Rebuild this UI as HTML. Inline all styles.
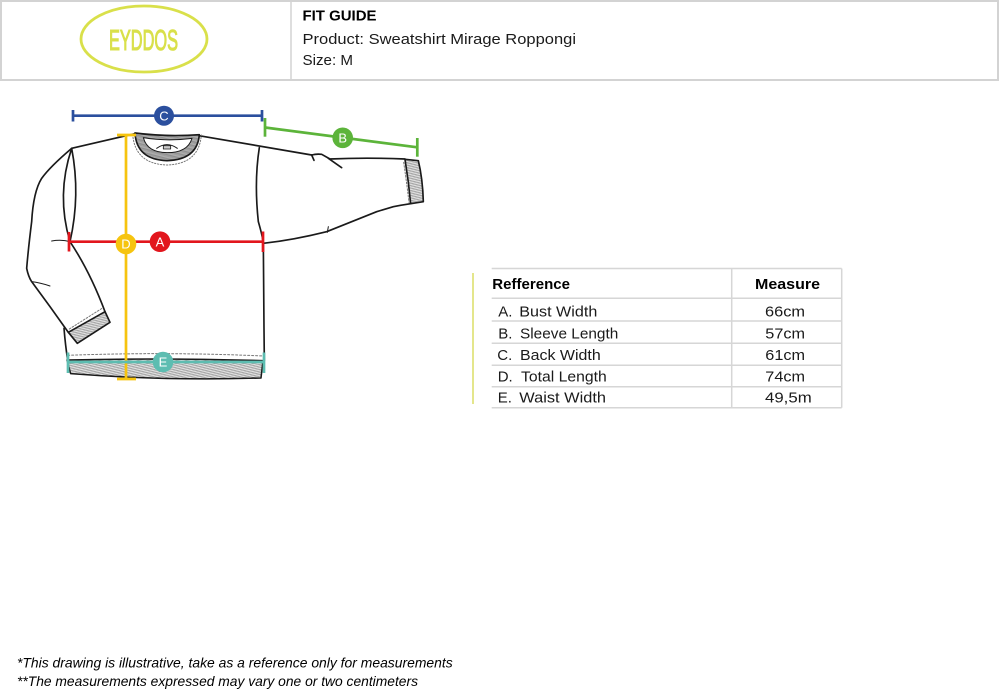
<!DOCTYPE html>
<html><head><meta charset="utf-8"><style>
html,body{margin:0;padding:0;background:#fff;}
svg{display:block;}
text{font-family:"Liberation Sans",sans-serif;}
</style></head><body>
<svg width="1000" height="693" viewBox="0 0 1000 693" xmlns="http://www.w3.org/2000/svg">
<defs>
<pattern id="h" patternUnits="userSpaceOnUse" width="5" height="5" patternTransform="rotate(80)">
<rect width="5" height="5" fill="#e8e8e8"/><line x1="1" y1="0" x2="1" y2="5" stroke="#8c8c8c" stroke-width="2"/></pattern>
<pattern id="h2" patternUnits="userSpaceOnUse" width="4" height="4" patternTransform="rotate(85)">
<rect width="4" height="4" fill="#c4c4c4"/><line x1="1" y1="0" x2="1" y2="4" stroke="#7a7a7a" stroke-width="2"/></pattern>
</defs>
<rect width="1000" height="693" fill="#fff"/>

<!-- header -->
<rect x="1" y="1" width="997" height="79" fill="none" stroke="#d3d3d3" stroke-width="2"/>
<line x1="291" y1="1" x2="291" y2="80" stroke="#d3d3d3" stroke-width="1.5"/>
<ellipse cx="144" cy="39" rx="63" ry="33" fill="none" stroke="#d9e04a" stroke-width="2.8"/>
<text x="109" y="50" font-size="29" fill="#d9e04a" stroke="#d9e04a" stroke-width="1.1" textLength="69" lengthAdjust="spacingAndGlyphs">EYDDOS</text>
<text x="302.5" y="20.7" font-size="15" font-weight="bold" fill="#000" textLength="74" lengthAdjust="spacingAndGlyphs">FIT GUIDE</text>
<text x="302.5" y="44" font-size="15" fill="#1a1a1a" textLength="273.5" lengthAdjust="spacingAndGlyphs">Product: Sweatshirt Mirage Roppongi</text>
<text x="302.5" y="65" font-size="15" fill="#1a1a1a" textLength="50.5" lengthAdjust="spacingAndGlyphs">Size: M</text>

<!-- sweatshirt drawing -->
<g transform="translate(0,95) scale(0.33333)" fill="none" stroke="#1a1a1a" stroke-width="5" stroke-linejoin="round" stroke-linecap="round">
  <!-- hem -->
  <path d="M201,795 Q500,788 789,797 L783,849 Q500,858 212,836 Z" fill="url(#h)" stroke-width="4.5"/>
  <path d="M203,781 Q500,770 789,783" stroke="#777" stroke-width="3" stroke-dasharray="6 6"/>
  <!-- body sides -->
  <path d="M192,700 Q196,750 203,795"/>
  <path d="M778,158 Q762,260 775,380 Q788,425 790,445 L792,700 L793,797"/>
  <!-- shoulders -->
  <path d="M215,160 L405,116"/>
  <path d="M597,122 L935,180 Q950,176 965,178 L990,192 Q1100,187 1215,192"/>
  <path d="M935,180 L942,196"/>
  <path d="M985,190 L1025,218"/>
  <!-- right cuff -->
  <path d="M1215,193 L1255,197 Q1268,250 1270,320 L1232,326 Q1226,260 1215,193 Z" fill="url(#h)"/>
  <path d="M1211,202 Q1220,262 1227,322" stroke="#777" stroke-width="3" stroke-dasharray="5 5"/>
  <!-- right sleeve bottom -->
  <path d="M1232,326 Q1205,330 1180,335 L1130,350 L980,410 Q880,435 790,445"/>
  <path d="M985,395 L982,412" stroke-width="3"/>
  <!-- left armhole -->
  <path d="M215,160 Q168,300 210,440"/>
  <path d="M215,160 Q242,300 210,440"/>
  <!-- left sleeve -->
  <path d="M215,160 Q150,215 125,250 Q100,290 95,380 Q85,460 80,520 Q85,545 95,560 L150,635 L205,712"/>
  <path d="M210,440 Q270,530 315,650"/>
  <path d="M205,712 L315,650 L330,682 L232,745 Z" fill="url(#h)"/>
  <path d="M208,702 L306,640" stroke="#777" stroke-width="3" stroke-dasharray="5 5"/>
  <path d="M155,438 Q185,433 210,440" stroke-width="3"/>
  <path d="M95,560 Q120,563 150,573" stroke-width="3"/>
  <!-- collar -->
  <path d="M398,118 Q405,207 501,210 Q597,207 604,120" stroke="#777" stroke-width="3" stroke-dasharray="4 5"/>
  <path d="M405,114 Q410,194 501,197 Q592,194 598,119 Q500,126 405,114 Z" fill="url(#h2)"/>
  <path d="M430,128 Q442,173 501,173 Q563,173 576,130 Q500,140 430,128 Z" fill="#fff" stroke-width="3"/>
  <path d="M470,160 Q501,138 532,160" stroke-width="3"/>
  <rect x="490" y="152" width="22" height="10" stroke-width="2.5" fill="#ccc"/>
</g>

<!-- measurement lines -->
<g stroke-linecap="butt">
  <!-- C -->
  <g stroke="#2b4f9e" stroke-width="2.7">
    <line x1="73" y1="115.7" x2="262" y2="115.7"/>
    <line x1="73" y1="110" x2="73" y2="121.5"/>
    <line x1="262" y1="110" x2="262" y2="121.5"/>
  </g>
  <circle cx="164" cy="115.7" r="10" fill="#2b4f9e"/>
  <text x="164" y="120.4" font-size="13" fill="#fff" text-anchor="middle">C</text>
  <!-- B -->
  <g stroke="#5cb43a" stroke-width="2.7">
    <line x1="265" y1="127.5" x2="417.3" y2="147.3"/>
    <line x1="265" y1="118" x2="265" y2="136.7"/>
    <line x1="417.3" y1="138" x2="417.3" y2="156.7"/>
  </g>
  <circle cx="342.7" cy="137.8" r="10.3" fill="#5cb43a"/>
  <text x="342.7" y="142.5" font-size="13" fill="#fff" text-anchor="middle">B</text>
  <!-- D line -->
  <g stroke="#f6c40f" stroke-width="2.7">
    <line x1="126" y1="135" x2="126" y2="379"/>
    <line x1="117" y1="135" x2="136" y2="135"/>
    <line x1="117" y1="379" x2="136" y2="379"/>
  </g>
  <!-- A -->
  <g stroke="#e2161d" stroke-width="2.7">
    <line x1="69" y1="241.7" x2="263" y2="241.7"/>
    <line x1="69" y1="232" x2="69" y2="251.5"/>
    <line x1="263" y1="231.5" x2="263" y2="252"/>
  </g>
  <circle cx="160" cy="241.7" r="10.3" fill="#e2161d"/>
  <text x="160" y="246.4" font-size="13" fill="#fff" text-anchor="middle">A</text>
  <circle cx="126" cy="244" r="10.3" fill="#f6c40f"/>
  <text x="126" y="248.7" font-size="13" fill="#fff" text-anchor="middle">D</text>
  <!-- E -->
  <g stroke="#5dbdb1" stroke-width="2.7">
    <line x1="68" y1="362" x2="264" y2="362"/>
    <line x1="68" y1="352.5" x2="68" y2="373"/>
    <line x1="264" y1="352.5" x2="264" y2="373"/>
  </g>
  <circle cx="163" cy="362" r="10.3" fill="#5dbdb1"/>
  <text x="163" y="366.7" font-size="13" fill="#fff" text-anchor="middle">E</text>
</g>

<!-- table -->
<line x1="473" y1="273" x2="473" y2="404" stroke="#e4e68c" stroke-width="2"/>
<g stroke="#d6d6d6" stroke-width="1.5">
  <line x1="491.7" y1="268.5" x2="841.7" y2="268.5"/>
  <line x1="491.7" y1="298.3" x2="841.7" y2="298.3"/>
  <line x1="491.7" y1="321" x2="841.7" y2="321"/>
  <line x1="491.7" y1="343.3" x2="841.7" y2="343.3"/>
  <line x1="491.7" y1="365.3" x2="841.7" y2="365.3"/>
  <line x1="491.7" y1="386.7" x2="841.7" y2="386.7"/>
  <line x1="491.7" y1="407.7" x2="841.7" y2="407.7"/>
  <line x1="731.7" y1="268.5" x2="731.7" y2="407.7"/>
  <line x1="841.7" y1="268.5" x2="841.7" y2="407.7"/>
</g>
<g fill="#1a1a1a" font-size="15">
  <text x="492.3" y="289" font-weight="bold" fill="#000" textLength="77.7" lengthAdjust="spacingAndGlyphs">Refference</text>
  <text x="755" y="289" font-weight="bold" fill="#000" textLength="65" lengthAdjust="spacingAndGlyphs">Measure</text>

  <text x="498.3" y="316.5">A.</text>
  <text x="519.3" y="316.5" textLength="78" lengthAdjust="spacingAndGlyphs">Bust Width</text>
  <text x="765" y="316.5" textLength="40" lengthAdjust="spacingAndGlyphs">66cm</text>

  <text x="498.3" y="338.3">B.</text>
  <text x="520" y="338.3" textLength="98.3" lengthAdjust="spacingAndGlyphs">Sleeve Length</text>
  <text x="765.3" y="338.3" textLength="39.7" lengthAdjust="spacingAndGlyphs">57cm</text>

  <text x="497.3" y="360">C.</text>
  <text x="520" y="360" textLength="80.7" lengthAdjust="spacingAndGlyphs">Back Width</text>
  <text x="765.3" y="360" textLength="39.7" lengthAdjust="spacingAndGlyphs">61cm</text>

  <text x="497.7" y="381.7">D.</text>
  <text x="521" y="381.7" textLength="85.7" lengthAdjust="spacingAndGlyphs">Total Length</text>
  <text x="765.3" y="381.7" textLength="39.7" lengthAdjust="spacingAndGlyphs">74cm</text>

  <text x="497.7" y="402.7">E.</text>
  <text x="519.3" y="402.7" textLength="86.7" lengthAdjust="spacingAndGlyphs">Waist Width</text>
  <text x="765" y="402.7" textLength="46.7" lengthAdjust="spacingAndGlyphs">49,5m</text>
</g>

<!-- footnotes -->
<text x="17" y="667.3" font-size="14" font-style="italic" fill="#000" textLength="435.7" lengthAdjust="spacingAndGlyphs">*This drawing is illustrative, take as a reference only for measurements</text>
<text x="17" y="686" font-size="14" font-style="italic" fill="#000" textLength="401" lengthAdjust="spacingAndGlyphs">**The measurements expressed may vary one or two centimeters</text>
</svg>
</body></html>
